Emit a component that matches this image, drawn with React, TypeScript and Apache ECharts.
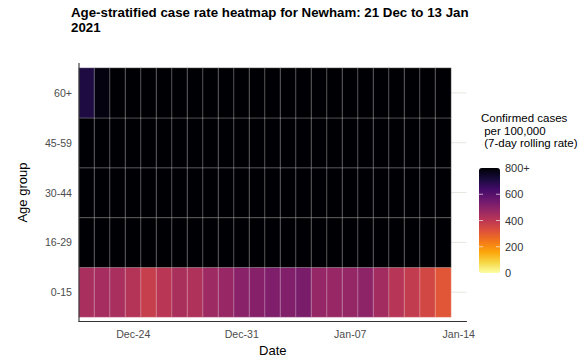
import React, { useEffect, useRef } from "react";
import * as echarts from "echarts";

// x-axis categories (one day per cell; the axis runs one day past the data)
const axisDates = [
  "Dec-21", "Dec-22", "Dec-23", "Dec-24", "Dec-25", "Dec-26", "Dec-27", "Dec-28",
  "Dec-29", "Dec-30", "Dec-31", "Jan-01", "Jan-02", "Jan-03", "Jan-04", "Jan-05",
  "Jan-06", "Jan-07", "Jan-08", "Jan-09", "Jan-10", "Jan-11", "Jan-12", "Jan-13",
  "Jan-14",
];
const xTickLabels = ["Dec-24", "Dec-31", "Jan-07", "Jan-14"];

// y-axis categories, bottom to top
const ageGroups = ["0-15", "16-29", "30-44", "45-59", "60+"];

// 7-day rolling case rate per 100,000, Dec 21 .. Jan 13
const rate0to15 = [440, 445, 440, 415, 375, 405, 435, 425, 460, 470, 500, 505, 520, 515, 530, 475, 470, 475, 490, 450, 410, 385, 350, 310];
const rate16to29 = [1020, 1080, 1130, 1150, 1120, 1110, 1150, 1230, 1340, 1420, 1500, 1530, 1560, 1580, 1570, 1520, 1470, 1430, 1400, 1350, 1280, 1200, 1120, 1040];
const rate30to44 = [1100, 1150, 1190, 1210, 1180, 1170, 1220, 1300, 1400, 1480, 1550, 1590, 1620, 1640, 1630, 1580, 1530, 1490, 1450, 1390, 1320, 1250, 1170, 1090];
const rate45to59 = [960, 1010, 1050, 1070, 1050, 1040, 1080, 1150, 1240, 1310, 1380, 1410, 1440, 1460, 1450, 1410, 1370, 1340, 1310, 1260, 1200, 1140, 1070, 1000];
const rate60plus = [705, 785, 830, 860, 850, 845, 870, 920, 990, 1050, 1110, 1140, 1170, 1190, 1190, 1160, 1130, 1110, 1090, 1060, 1020, 980, 930, 880];

const rateCap = 800;
const legendTicks = [0, 200, 400, 600, 800];
const legendTickLabels = ["0", "200", "400", "600", "800+"];

// inferno palette, reversed (low = pale yellow, high = black)
const infernoReversed = [
  "#FCFFA4", "#F6D746", "#FCA50A", "#F37819", "#DD513A", "#BC3754",
  "#932667", "#6A176E", "#420A68", "#160B39", "#000004",
];

const FONT = "Liberation Sans, Arial, sans-serif";

export default function App() {
  const ref = useRef<HTMLDivElement>(null);

  useEffect(() => {
    const chart = echarts.init(ref.current!, null, { renderer: "svg" });
    const rows = [rate0to15, rate16to29, rate30to44, rate45to59, rate60plus];
    const data: [number, number, number][] = [];
    rows.forEach((row, yi) =>
      row.forEach((v, xi) => data.push([xi, yi, Math.min(v, rateCap)]))
    );

    const gridLeft = 79;
    const gridTop = 68;
    const gridHeight = 250;
    const gridWidth = 387.5;
    const showTick = (_i: number, v: string) => xTickLabels.includes(v);

    const barLeft = 479;
    const barTop = 168;
    const barW = 21;
    const barH = 105;

    const legendGraphics: any[] = [];
    legendTicks.forEach((t, i) => {
      const y = barTop + barH * (1 - t / rateCap);
      legendGraphics.push({
        type: "text",
        x: barLeft + barW + 5,
        y,
        style: {
          text: legendTickLabels[i],
          fontSize: 11,
          fontFamily: FONT,
          fill: "#333",
          verticalAlign: "middle",
          align: "left",
        },
      });
      if (t > 0 && t < rateCap) {
        legendGraphics.push({
          type: "line",
          shape: { x1: barLeft, y1: y, x2: barLeft + 4, y2: y },
          style: { stroke: "rgba(255,255,255,0.8)", lineWidth: 0.8 },
          z: 100,
        });
        legendGraphics.push({
          type: "line",
          shape: { x1: barLeft + barW - 4, y1: y, x2: barLeft + barW, y2: y },
          style: { stroke: "rgba(255,255,255,0.8)", lineWidth: 0.8 },
          z: 100,
        });
      }
    });

    chart.setOption({
      animation: false,
      backgroundColor: "#fff",
      title: {
        text: "Age-stratified case rate heatmap for Newham: 21 Dec to 13 Jan\n2021",
        left: 71,
        top: 5,
        padding: 0,
        textStyle: {
          fontSize: 13.3,
          fontWeight: "bold",
          fontFamily: FONT,
          color: "#000",
          lineHeight: 15,
        },
      },
      grid: { left: gridLeft, top: gridTop, width: gridWidth, height: gridHeight },
      xAxis: {
        type: "category",
        data: axisDates,
        offset: 4,
        axisLine: { lineStyle: { color: "#333", width: 1.1 } },
        axisTick: { alignWithLabel: true, interval: showTick, length: 3, lineStyle: { color: "#333" } },
        axisLabel: { interval: showTick, fontSize: 10.6, color: "#4D4D4D", fontFamily: FONT, margin: 7 },
        splitLine: { show: false },
        name: "Date",
        nameLocation: "middle",
        nameGap: 22,
        nameTextStyle: { fontSize: 13, color: "#000", fontFamily: FONT },
      },
      yAxis: {
        type: "category",
        data: ageGroups,
        axisLine: { show: false },
        axisTick: { alignWithLabel: true, length: 3, lineStyle: { color: "#333" } },
        axisLabel: { fontSize: 10.6, color: "#4D4D4D", fontFamily: FONT, margin: 7 },
        splitLine: { show: false },
        name: "Age group",
        nameLocation: "middle",
        nameGap: 50,
        nameRotate: 90,
        nameTextStyle: { fontSize: 13, color: "#000", fontFamily: FONT },
      },
      visualMap: {
        type: "continuous",
        min: 0,
        max: rateCap,
        calculable: false,
        hoverLink: false,
        orient: "vertical",
        left: barLeft,
        top: barTop,
        itemWidth: barW,
        itemHeight: barH,
        padding: 0,
        inRange: { color: infernoReversed },
      },
      series: [
        {
          type: "heatmap",
          data,
          itemStyle: { borderColor: "rgba(255,255,255,0.38)", borderWidth: 0.8 },
          emphasis: { disabled: true },
        },
      ],
      graphic: [
        {
          type: "line",
          shape: { x1: gridLeft, y1: gridTop - 5, x2: gridLeft, y2: gridTop + gridHeight + 4 },
          style: { stroke: "#333", lineWidth: 1.1 },
          z: 50,
        },
        {
          type: "text",
          x: 481,
          y: 112,
          style: {
            text: "Confirmed cases\n per 100,000\n (7-day rolling rate)",
            fontSize: 11.5,
            lineHeight: 12.5,
            fontFamily: FONT,
            fill: "#000",
          },
        },
        ...legendGraphics,
      ],
    });

    // faint horizontal gridlines at category centres, visible right of the last tile
    const lastData = chart.convertToPixel({ xAxisIndex: 0 }, axisDates[axisDates.length - 2]) as number;
    const lastAxis = chart.convertToPixel({ xAxisIndex: 0 }, axisDates[axisDates.length - 1]) as number;
    const half = (lastAxis - lastData) / 2;
    const gridLines = ageGroups.map((g) => {
      const y = chart.convertToPixel({ yAxisIndex: 0 }, g) as number;
      return {
        type: "line",
        shape: { x1: lastData + half, y1: y, x2: lastAxis + half, y2: y },
        style: { stroke: "#E6E6E0", lineWidth: 1 },
        z: -1,
      };
    });
    chart.setOption({ graphic: gridLines.map((g, i) => ({ ...g, id: "gl" + i })) });

    return () => chart.dispose();
  }, []);

  return (
    <div
      ref={ref}
      style={{ position: "absolute", left: 0, top: 0, width: 585, height: 362 }}
    />
  );
}
